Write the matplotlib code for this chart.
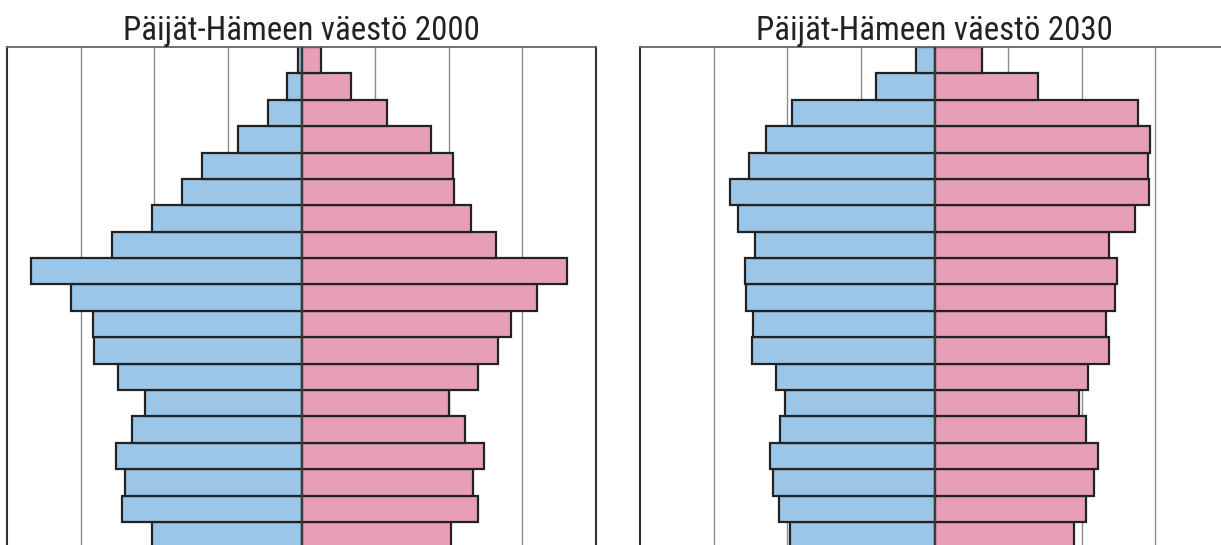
import matplotlib
matplotlib.use("Agg")
import matplotlib.pyplot as plt
from matplotlib import font_manager
import numpy as np

# Age groups (bottom to top)
ages = ["0-4", "5-9", "10-14", "15-19", "20-24", "25-29", "30-34", "35-39",
        "40-44", "45-49", "50-54", "55-59", "60-64", "65-69", "70-74",
        "75-79", "80-84", "85-89", "90+"]

# Persons per age group
male_2000 = [5080, 6080, 5980, 6290, 5740, 5310, 6230, 7030, 7080, 7820,
             9180, 6430, 5090, 4050, 3390, 2160, 1140, 480, 130]
female_2000 = [5060, 6000, 5840, 6210, 5540, 5000, 6010, 6680, 7110, 7990,
               9030, 6600, 5750, 5170, 5140, 4390, 2920, 1680, 650]
male_2030 = [4900, 5270, 5480, 5600, 5260, 5070, 5370, 6180, 6160, 6410,
             6440, 6080, 6680, 6960, 6290, 5720, 4850, 1990, 630]
female_2030 = [4740, 5150, 5400, 5560, 5130, 4910, 5220, 5910, 5840, 6140,
               6210, 5910, 6800, 7300, 7250, 7330, 6900, 3510, 1620]

titles = ["Päijät-Hämeen väestö 2000", "Päijät-Hämeen väestö 2030"]
grid_ticks = [-7500, -5000, -2500, 2500, 5000, 7500]

# pick the narrowest available sans family for the title
names = sorted({f.name for f in font_manager.fontManager.ttflist})
title_family = None
for cand in ["Liberation Sans Narrow", "Roboto Condensed", "Open Sans Condensed",
             "Noto Sans Condensed", "DejaVu Sans Condensed", "Noto Sans Display Condensed"]:
    if cand in names:
        title_family = cand
        break
if title_family is None:
    narrow = [n for n in names if ("Condensed" in n or "Narrow" in n) and "Mono" not in n
              and "Serif" not in n and "CJK" not in n]
    title_family = narrow[0] if narrow else "Roboto"

W, H = 1221, 545
fig = plt.figure(figsize=(W / 100, H / 100), dpi=100)
fig.patch.set_facecolor("white")

top_px = 47
ax_h = (H - top_px) / H
panels = [(7 / W, 589 / W), (640 / W, 589 / W)]
data = [(male_2000, female_2000), (male_2030, female_2030)]

blue = "#9bc6e7"
pink = "#e79fb8"

target_w = 357
for (left, width), (m, f), title in zip(panels, data, titles):
    ax = fig.add_axes([left, 0, width, ax_h])
    y = np.arange(len(ages))
    for g in grid_ticks:
        ax.axvline(g, color="#8a8a8a", lw=1.0, zorder=0)
    ax.barh(y, -np.array(m), height=1.0, color=blue, edgecolor="#222222",
            linewidth=1.6, zorder=2)
    ax.barh(y, np.array(f), height=1.0, color=pink, edgecolor="#222222",
            linewidth=1.6, zorder=2)
    ax.axvline(0, color="#3a3a3a", lw=1.6, zorder=3)
    ax.set_xlim(-10000, 10000)
    ax.set_ylim(-0.375, len(ages) - 0.5)
    ax.set_xticks([])
    ax.set_yticks([])
    for side in ["left", "right"]:
        ax.spines[side].set_color("#333333")
        ax.spines[side].set_linewidth(1.5)
    ax.spines["top"].set_color("#666666")
    ax.spines["top"].set_linewidth(1.3)
    ax.spines["bottom"].set_visible(False)
    t = ax.set_title(title, fontsize=23, pad=5, color="#222222",
                     family=[title_family, "DejaVu Sans"])
    # fit title width to the reference width
    fig.canvas.draw()
    bb = t.get_window_extent(renderer=fig.canvas.get_renderer())
    if bb.width > 0:
        t.set_fontsize(min(26, 23 * target_w / bb.width))

fig.savefig("out.png", dpi=100, facecolor="white")
